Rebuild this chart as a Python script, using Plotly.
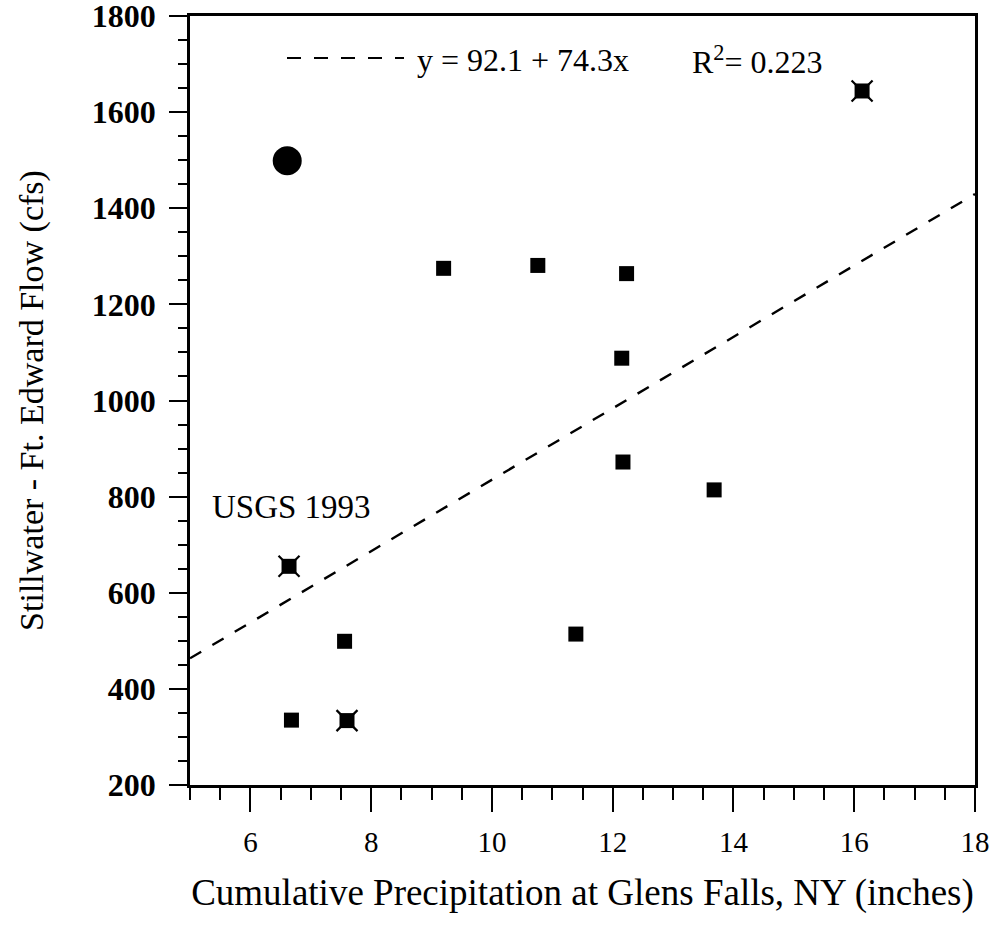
import numpy as np
import plotly.graph_objects as go

# ---- data ----
square_x = [9.20, 10.76, 12.23, 12.15, 12.17, 13.68, 11.39, 7.56, 6.68]
square_y = [1275, 1281, 1264, 1088, 872, 814, 514, 499, 335]

star_x = [6.64, 7.60, 16.13]
star_y = [655, 334, 1644]

circle_x = [6.61]
circle_y = [1499]

fit_intercept = 92.1
fit_slope = 74.3
fit_r2 = 0.223

x_range = [5, 18]
y_range = [200, 1800]
x_ticks = [6, 8, 10, 12, 14, 16, 18]
y_ticks = [200, 400, 600, 800, 1000, 1200, 1400, 1600, 1800]

FONT = "Liberation Serif"

# figure geometry (page body margin is removed in post_script)
FIG_W, FIG_H = 997, 935
L, R, T, B = 190, 975, 16, 785
W, H = R - L, B - T


def px(x):
    return (x - L) / W


def py(y):
    return (B - y) / H


fig = go.Figure()

# regression line
fx = np.array(x_range, dtype=float)
fy = fit_intercept + fit_slope * fx
fig.add_trace(go.Scatter(x=fx, y=fy, mode="lines",
                         line=dict(color="black", width=2.4, dash="13px,13px"),
                         showlegend=False, hoverinfo="skip"))

# squares
fig.add_trace(go.Scatter(x=square_x, y=square_y, mode="markers",
                         marker=dict(symbol="square", size=15, color="black"),
                         showlegend=False))

# squares with corner spikes
fig.add_trace(go.Scatter(x=star_x, y=star_y, mode="markers",
                         marker=dict(symbol="square", size=15, color="black"),
                         showlegend=False))
fig.add_trace(go.Scatter(x=star_x, y=star_y, mode="markers",
                         marker=dict(symbol="x-thin-open", size=21, color="black",
                                     line=dict(width=2.2, color="black")),
                         showlegend=False))

# large circle
fig.add_trace(go.Scatter(x=circle_x, y=circle_y, mode="markers",
                         marker=dict(symbol="circle", size=29, color="black"),
                         showlegend=False))

# legend sample line for the fit
fig.add_shape(type="line", xref="paper", yref="paper",
              x0=px(287), x1=px(404), y0=py(58), y1=py(58),
              line=dict(color="black", width=2.2, dash="14px,13px"))

fig.add_annotation(xref="paper", yref="paper", x=px(415), y=py(60),
                   xanchor="left", yanchor="middle", showarrow=False,
                   text=f"y = {fit_intercept} + {fit_slope}x",
                   font=dict(family=FONT, size=32, color="black"))
fig.add_annotation(xref="paper", yref="paper", x=px(690), y=py(60),
                   xanchor="left", yanchor="middle", showarrow=False,
                   text=f"R<sup>2</sup>= {fit_r2}",
                   font=dict(family=FONT, size=32, color="black"))

fig.add_annotation(xref="paper", yref="paper", x=px(210), y=py(507),
                   xanchor="left", yanchor="middle", showarrow=False,
                   text="USGS 1993",
                   font=dict(family=FONT, size=33, color="black"))

fig.update_xaxes(range=x_range, tickvals=x_ticks, ticktext=[str(v) for v in x_ticks],
                 ticks="outside", ticklen=24, tickwidth=2, tickcolor="black",
                 minor=dict(dtick=0.5, tick0=5, ticks="outside", ticklen=12,
                            tickwidth=1.5, tickcolor="black", showgrid=False),
                 showline=True, linewidth=2.6, linecolor="black", mirror=True,
                 showgrid=False, zeroline=False, automargin=False,
                 ticklabelstandoff=5, ticklabeloverflow="allow",
                 tickfont=dict(family=FONT, size=29, color="black"),
                 title=dict(text="Cumulative Precipitation at Glens Falls, NY (inches)",
                            font=dict(family=FONT, size=37, color="black"), standoff=23))

fig.update_yaxes(range=y_range, tickvals=y_ticks,
                 ticks="outside", ticklen=18, tickwidth=2, tickcolor="black",
                 minor=dict(dtick=50, tick0=200, ticks="outside", ticklen=9,
                            tickwidth=1.5, tickcolor="black", showgrid=False),
                 showline=True, linewidth=2.6, linecolor="black", mirror=True,
                 showgrid=False, zeroline=False, automargin=False,
                 ticklabelstandoff=7, ticklabeloverflow="allow",
                 tickfont=dict(family=FONT, size=32, color="black", weight="bold"),
                 title=dict(text="Stillwater - Ft. Edward Flow (cfs)",
                            font=dict(family=FONT, size=34, color="black"), standoff=38))

fig.update_layout(width=FIG_W, height=FIG_H,
                  margin=dict(l=L, r=FIG_W - R, t=T, b=FIG_H - B, autoexpand=False),
                  plot_bgcolor="white", paper_bgcolor="white",
                  showlegend=False)

fig.write_html("out.html", config={"displayModeBar": False},
               post_script="document.body.style.margin='0';document.body.style.overflow='hidden';")
